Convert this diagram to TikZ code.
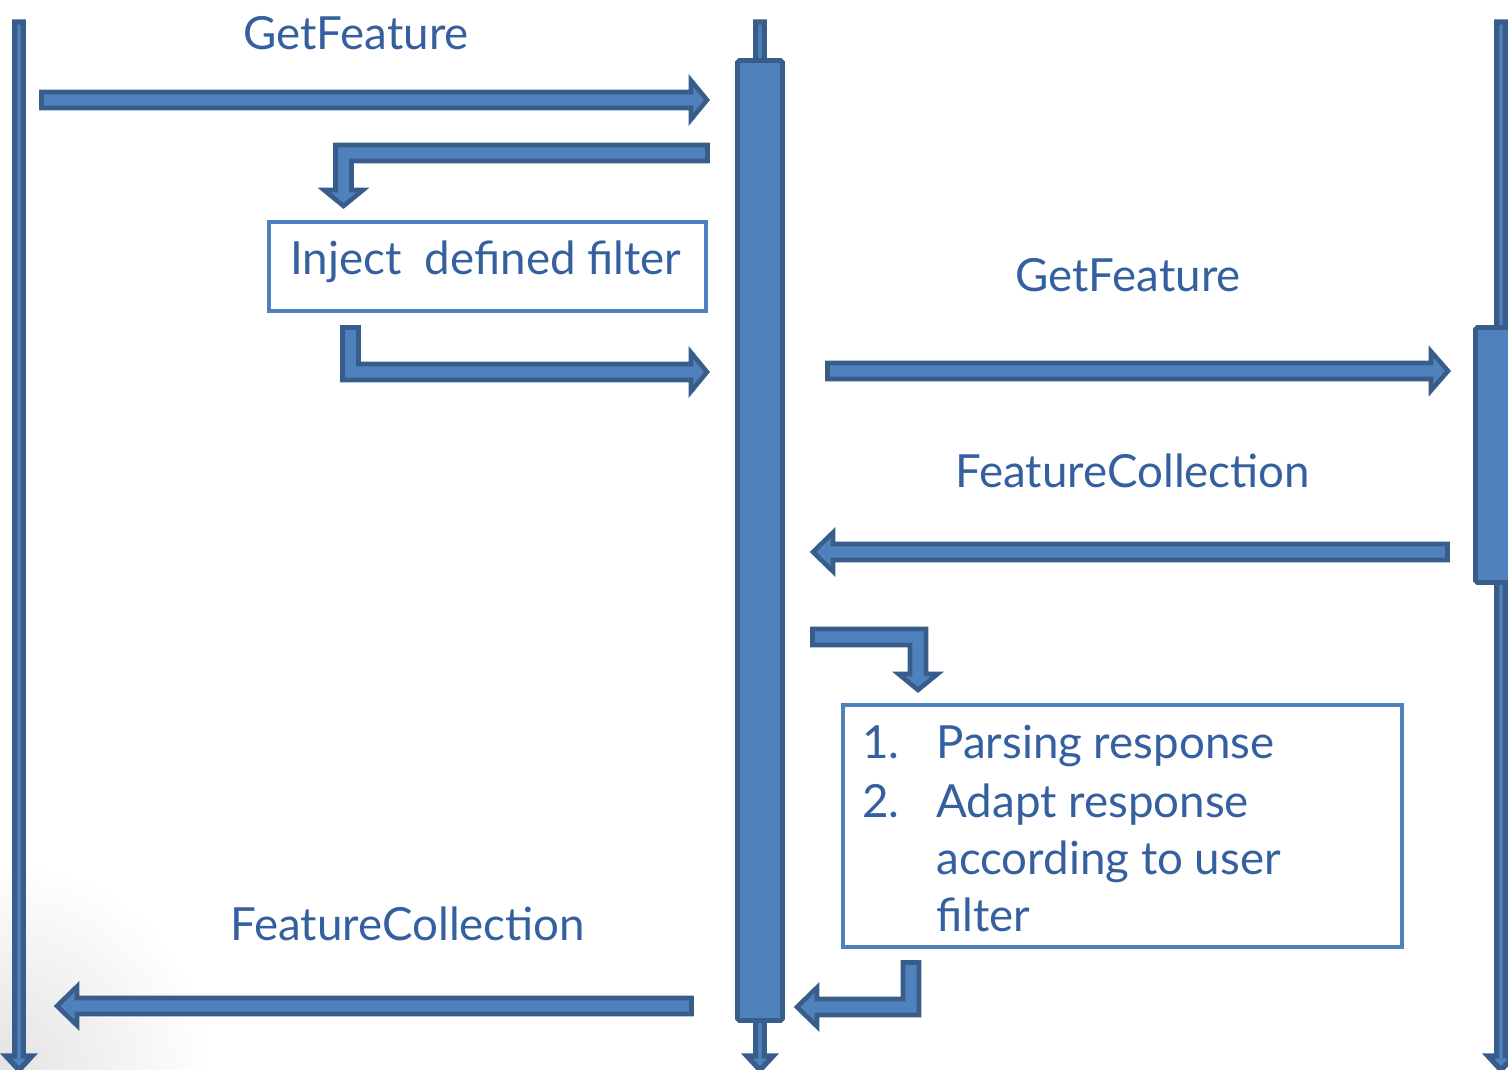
\documentclass[tikz,border=0pt]{standalone}
\usepackage{fontspec}
\setmainfont{Lato}
\definecolor{fillb}{RGB}{79,129,189}
\definecolor{edgeb}{RGB}{56,93,138}
\definecolor{textb}{RGB}{52,96,160}
\begin{document}
\begin{tikzpicture}[x=0.02cm,y=-0.02cm,line join=miter,
	blk/.style={fill=fillb,draw=edgeb,line width=2.6pt},
	box/.style={draw=fillb,line width=2pt,fill=white},
	lbl/.style={text=textb,font=\fontsize{26}{31}\selectfont,inner sep=0pt,anchor=base west}]
	\useasboundingbox (0,0) rectangle (1508,1070);
	\begin{scope}
		\clip (0,0) rectangle (1508,1070);
		\shade[inner color=black!11,outer color=white] (0,1070) circle (210);
	\end{scope}
	% lifelines
	\path (19,22) coordinate (U)
	(760,22) coordinate (P)
	(1501,22) coordinate (S);
	\foreach \x in {19,760,1501}
	\draw[blk,line width=3pt] (\x-4.2,22)--(\x+4.2,22)--(\x+4.2,1056)
	--(\x+13,1056)--(\x,1070)--(\x-13,1056)--(\x-4.2,1056)--cycle;
	\draw[blk,rounded corners=1pt] (737.5,60.5) rectangle (782.5,1020.5);
	\draw[blk,rounded corners=1pt] (1475.5,327.5) rectangle (1520,582.5);
	% boxes
	\draw[box] (269,222) rectangle (706,311);
	\draw[box] (843,705) rectangle (1402,947);
	% arrows
	\draw[blk] (41.5,92)--(691,92)--(691,80.5)--(707,100)--(691,119.5)
	--(691,108)--(41.5,108)--cycle;
	\draw[blk] (707.5,145)--(335.5,145)--(335.5,190)--(324,190)--(343.5,206)
	--(363,190)--(351.5,190)--(351.5,161)--(707.5,161)--cycle;
	\draw[blk] (342.5,327.5)--(358.5,327.5)--(358.5,364)--(691,364)--(691,352.5)
	--(707,372)--(691,391.5)--(691,380)--(342.5,380)--cycle;
	\draw[blk] (827.5,363)--(1431,363)--(1431,351.5)--(1448,371)--(1431,390.5)
	--(1431,379)--(827.5,379)--cycle;
	\draw[blk] (1447.5,544)--(833,544)--(833,532.5)--(813,552)--(833,571.5)
	--(833,560)--(1447.5,560)--cycle;
	\draw[blk] (812.5,629)--(926,629)--(926,674)--(937.5,674)--(918,690)
	--(898.5,674)--(910,674)--(910,645)--(812.5,645)--cycle;
	\draw[blk] (903,962.5)--(919,962.5)--(919,1015)--(817,1015)
	--(817,1026.5)--(797,1007)--(817,987.5)--(817,999)--(903,999)--cycle;
	\draw[blk] (691.5,998)--(77,998)--(77,986.5)--(57,1006)--(77,1025.5)
	--(77,1014)--(691.5,1014)--cycle;
	% labels
	\node[lbl] (get1) at (243,50) {GetFeature};
	\node[lbl] (inj) at (290,275) {Inject\ \ defined filter};
	\node[lbl] (get2) at (1015,292) {GetFeature};
	\node[lbl] (fc1) at (955,488) {FeatureCollection};
	\node[lbl] (n1) at (862,759) {1.};
	\node[lbl] (t1) at (936,759) {Parsing response};
	\node[lbl] (n2) at (862,817) {2.};
	\node[lbl] (t2) at (936,817) {Adapt response};
	\node[lbl] (t3) at (936,874) {according to user};
	\node[lbl] (t4) at (936,931) {filter};
	\node[lbl] (fc2) at (230,940) {FeatureCollection};
\end{tikzpicture}
\end{document}
